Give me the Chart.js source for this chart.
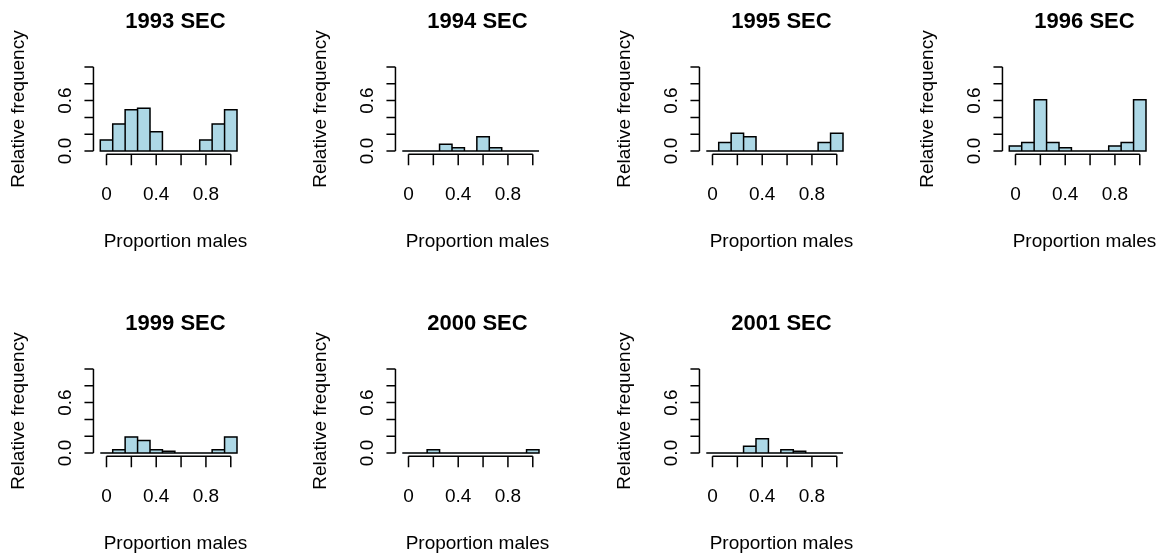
<!DOCTYPE html>
<html>
<head>
<meta charset="utf-8">
<script src="https://cdn.jsdelivr.net/npm/chart.js@4/dist/chart.umd.min.js"></script>
<style>
  html, body { margin: 0; padding: 0; background: #fff; }
  #wrap { position: relative; width: 1160px; height: 556px; overflow: hidden; }
  #wrap canvas { position: absolute; }
</style>
</head>
<body>
<div id="wrap"></div>
<script>
// bin mid points of the histograms (bins of width 0.1)
const binMids = [0, 0.1, 0.2, 0.3, 0.4, 0.5, 0.6, 0.7, 0.8, 0.9, 1.0];

const panelTitles = ['1993 SEC', '1994 SEC', '1995 SEC', '1996 SEC', '1999 SEC', '2000 SEC', '2001 SEC'];

const freq1993 = [0.13, 0.32, 0.49, 0.51, 0.23, 0, 0, 0, 0.13, 0.32, 0.49];
const freq1994 = [0, 0, 0, 0.08, 0.04, 0, 0.17, 0.04, 0, 0, 0];
const freq1995 = [0, 0.10, 0.21, 0.17, 0, 0, 0, 0, 0, 0.10, 0.21];
const freq1996 = [0.06, 0.10, 0.61, 0.10, 0.04, 0, 0, 0, 0.06, 0.10, 0.61];
const freq1999 = [0, 0.04, 0.19, 0.15, 0.04, 0.02, 0, 0, 0, 0.04, 0.19];
const freq2000 = [0, 0, 0.04, 0, 0, 0, 0, 0, 0, 0, 0.04];
const freq2001 = [0, 0, 0, 0.08, 0.17, 0, 0.04, 0.02, 0, 0, 0];

const xTickVals = [0, 0.2, 0.4, 0.6, 0.8, 1.0];
const xTickLabels = ['0', '', '0.4', '', '0.8', ''];
const yTickVals = [0, 0.2, 0.4, 0.6, 0.8, 1.0];
const yTickLabels = ['0.0', '', '', '0.6', '', ''];

const xTitle = 'Proportion males';
const yTitle = 'Relative frequency';

const panelData = [freq1993, freq1994, freq1995, freq1996, freq1999, freq2000, freq2001];

// where each panel canvas sits on the page
const panelLeft = [0, 302, 606, 909, 0, 302, 606];
const panelTop = [0, 0, 0, 0, 302, 302, 302];

const FONT = '"Liberation Sans", Arial, Helvetica, sans-serif';

// base-R style axes, bar outlines and labels
const rStyle = {
    id: 'rStyle',
    afterDatasetsDraw(chart, args, opts) {
        const {ctx, chartArea: a, scales: {x, y}} = chart;
        ctx.save();
        ctx.strokeStyle = '#000';
        ctx.fillStyle = '#000';
        ctx.lineWidth = 1.5;

        // outline each bin like rect() does, zero bins become a flat line
        ctx.beginPath();
        chart.getDatasetMeta(0).data.forEach(bar => {
            const {x: cx, y: top, base, width} = bar.getProps(['x', 'y', 'base', 'width'], true);
            ctx.rect(cx - width / 2, top, width, base - top);
        });
        ctx.stroke();

        // x axis
        ctx.beginPath();
        ctx.moveTo(x.getPixelForValue(xTickVals[0]), a.bottom);
        ctx.lineTo(x.getPixelForValue(xTickVals[xTickVals.length - 1]), a.bottom);
        xTickVals.forEach(v => {
            const px = x.getPixelForValue(v);
            ctx.moveTo(px, a.bottom);
            ctx.lineTo(px, a.bottom + 11);
        });
        ctx.stroke();

        // y axis
        ctx.beginPath();
        ctx.moveTo(a.left, y.getPixelForValue(yTickVals[0]));
        ctx.lineTo(a.left, y.getPixelForValue(yTickVals[yTickVals.length - 1]));
        yTickVals.forEach(v => {
            const py = y.getPixelForValue(v);
            ctx.moveTo(a.left, py);
            ctx.lineTo(a.left - 9, py);
        });
        ctx.stroke();

        ctx.font = '19px ' + FONT;
        ctx.textAlign = 'center';
        ctx.textBaseline = 'alphabetic';
        xTickVals.forEach((v, i) => {
            if (xTickLabels[i]) ctx.fillText(xTickLabels[i], x.getPixelForValue(v), a.bottom + 45.6);
        });
        ctx.fillText(xTitle, (a.left + a.right) / 2, a.bottom + 92.3);

        yTickVals.forEach((v, i) => {
            if (!yTickLabels[i]) return;
            ctx.save();
            ctx.translate(a.left - 22, y.getPixelForValue(v));
            ctx.rotate(-Math.PI / 2);
            ctx.fillText(yTickLabels[i], 0, 0);
            ctx.restore();
        });
        ctx.save();
        ctx.translate(a.left - 69, (a.top + a.bottom) / 2);
        ctx.rotate(-Math.PI / 2);
        ctx.fillText(yTitle, 0, 0);
        ctx.restore();

        ctx.font = 'bold 22px ' + FONT;
        ctx.fillText(opts.title, (a.left + a.right) / 2, a.top - 35.3);
        ctx.restore();
    }
};

const wrap = document.getElementById('wrap');

panelData.forEach((vals, p) => {
    const cv = document.createElement('canvas');
    cv.width = 290;
    cv.height = 278;
    cv.style.left = panelLeft[p] + 'px';
    cv.style.top = panelTop[p] + 'px';
    cv.style.width = '290px';
    cv.style.height = '278px';
    wrap.appendChild(cv);

    new Chart(cv.getContext('2d'), {
        type: 'bar',
        data: {
            datasets: [{
                data: binMids.map((m, i) => ({x: m, y: vals[i]})),
                backgroundColor: '#ADD8E6',
                borderWidth: 0,
                barPercentage: 1,
                categoryPercentage: 1
            }]
        },
        options: {
            responsive: false,
            animation: false,
            devicePixelRatio: 1,
            layout: {
                padding: {left: 93.45, right: 32.5, top: 63.64, bottom: 123.64}
            },
            scales: {
                x: {type: 'linear', offset: false, min: -0.105, max: 1.215, display: false},
                y: {type: 'linear', min: -0.04, max: 1.04, display: false}
            },
            plugins: {
                legend: {display: false},
                tooltip: {enabled: false},
                rStyle: {title: panelTitles[p]}
            }
        },
        plugins: [rStyle]
    });
});
</script>
</body>
</html>
